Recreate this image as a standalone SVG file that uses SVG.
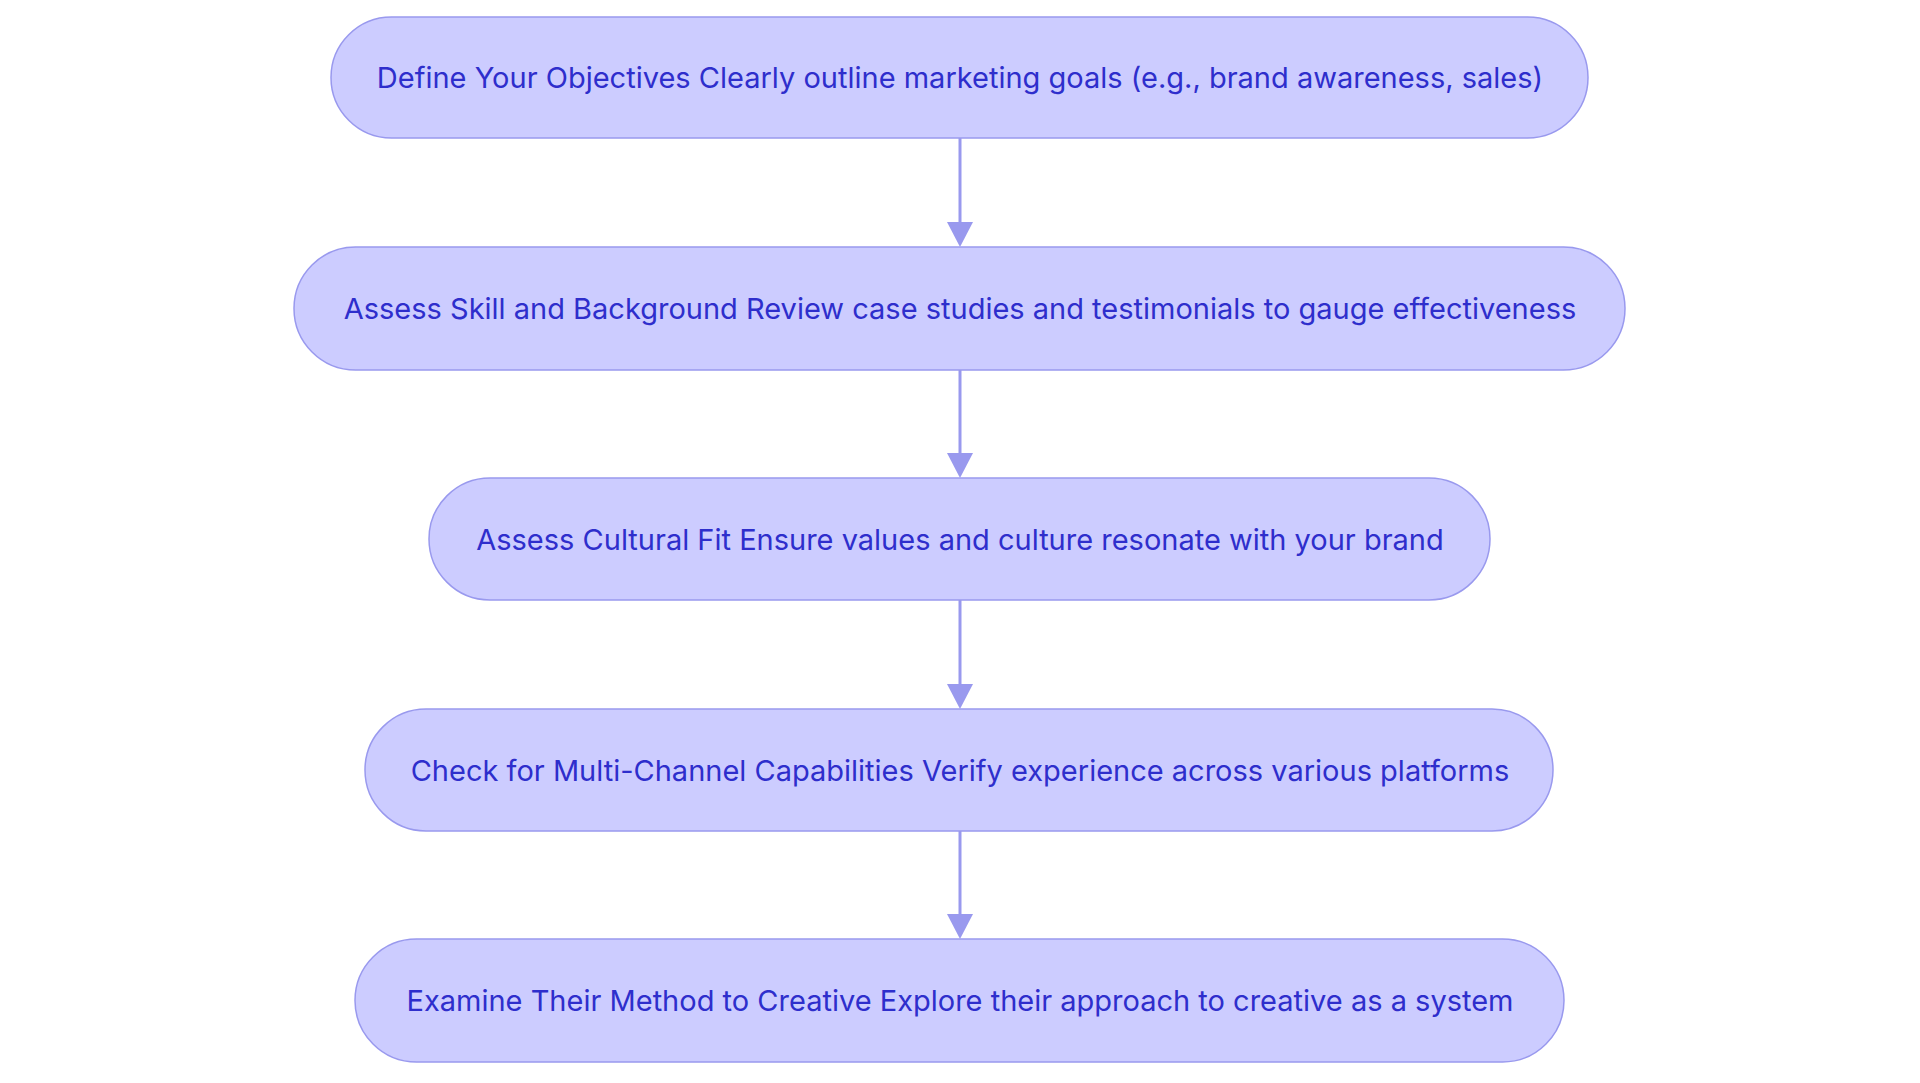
<svg xmlns="http://www.w3.org/2000/svg" width="1920" height="1083" viewBox="0 0 1920 1083">
<defs>
<style>
.n rect{fill:#ccccff;stroke:#9999ee;stroke-width:1.5}
.n text{font-family:Inter,"Liberation Sans",sans-serif;font-size:29px;fill:#2e2ecc;text-anchor:middle;dominant-baseline:central}
.c path{stroke:#9999ee;stroke-width:3;fill:none}
.c polygon{fill:#9999ee}
</style>
</defs>
<rect width="1920" height="1083" fill="#fff"/>
<g class="c">
<path d="M960 138V230"/><polygon points="947,222 973,222 960,247"/>
<path d="M960 370V460"/><polygon points="947,453 973,453 960,478"/>
<path d="M960 600V690"/><polygon points="947,684 973,684 960,709"/>
<path d="M960 831V920"/><polygon points="947,914 973,914 960,939"/>
</g>
<g id="n1" class="n"><rect x="331" y="17" width="1257" height="121" rx="60.5"/><text x="960" y="77">Define Your Objectives Clearly outline marketing goals (e.g., brand awareness, sales)</text></g>
<g id="n2" class="n"><rect x="294" y="247" width="1331" height="123" rx="61.5"/><text x="960" y="308">Assess Skill and Background Review case studies and testimonials to gauge effectiveness</text></g>
<g id="n3" class="n"><rect x="429" y="478" width="1061" height="122" rx="61"/><text x="960" y="539">Assess Cultural Fit Ensure values and culture resonate with your brand</text></g>
<g id="n4" class="n"><rect x="365" y="709" width="1188" height="122" rx="61"/><text x="960" y="770">Check for Multi-Channel Capabilities Verify experience across various platforms</text></g>
<g id="n5" class="n"><rect x="355" y="939" width="1209" height="123" rx="61.5"/><text x="960" y="1000">Examine Their Method to Creative Explore their approach to creative as a system</text></g>
</svg>
